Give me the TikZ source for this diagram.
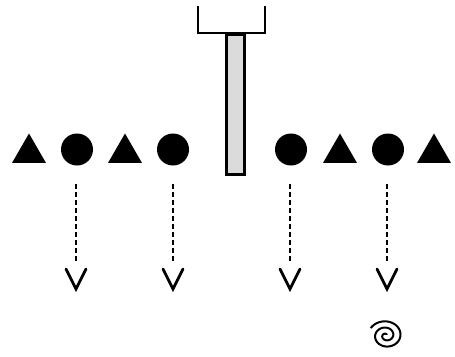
\documentclass[tikz,border=0pt]{standalone}
\usetikzlibrary{shapes.geometric}
\begin{document}
\begin{tikzpicture}[x=1pt,y=-1pt,
  ball/.style={circle,fill=black,draw=none,minimum size=32pt,inner sep=0pt},
  tri/.style={regular polygon,regular polygon sides=3,fill=black,draw=none,minimum size=39pt,inner sep=0pt},
  fall/.style={line width=2.6pt,dash pattern=on 5pt off 3pt},
  vtip/.style={line width=2.8pt,line cap=round,line join=miter}]
\useasboundingbox (0,0) rectangle (455,356);
% plunger
\draw[line width=2.2pt] (198,6) -- (198,33) -- (265,33) -- (265,6);
\node[draw=black,line width=2.6pt,fill=gray!28,minimum width=18pt,minimum height=140pt,inner sep=0pt,anchor=north] (rod) at (235.5,33) {};
% shapes
\node[tri] (t1) at (29,153) {};
\node[ball] (b1) at (77,149.5) {};
\node[tri] (t2) at (125,153) {};
\node[ball] (b2) at (173,149.5) {};
\node[ball] (b3) at (291,149.5) {};
\node[tri] (t3) at (340,153) {};
\node[ball] (b4) at (388,149.5) {};
\node[tri] (t4) at (434,153) {};
% arrows
\foreach \i/\x in {1/76,2/173,3/290,4/387}{
  \coordinate (s\i) at (\x,184);
  \coordinate (e\i) at (\x,263);
  \coordinate (p\i) at (\x,289);
  \draw[fall] (s\i) -- (e\i);
  \draw[vtip] ([xshift=-10pt,yshift=20pt]p\i) -- (p\i) -- ([xshift=10pt,yshift=20pt]p\i);
}
% spiral
\coordinate (sp) at (386,335.5);
\draw[line width=2pt,shift={(sp)}] plot[domain=0.8:15.2,samples=160,smooth,variable=\t] ({1.15*\t*cos(\t r)},{-1.0*\t*sin(\t r)});
\end{tikzpicture}
\end{document}
